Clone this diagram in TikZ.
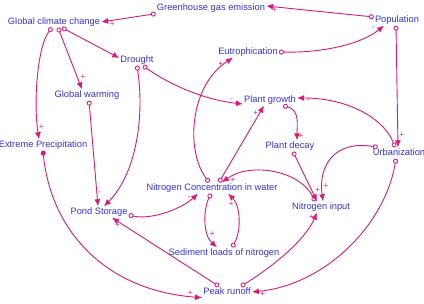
\documentclass[tikz,border=0pt]{standalone}
\usepackage{fontspec}
\setmainfont{Liberation Sans}
\usetikzlibrary{arrows.meta}
\definecolor{linkpink}{RGB}{220,25,120}
\definecolor{varblue}{RGB}{50,50,215}

\begin{document}
\begin{tikzpicture}[x=1pt,y=-1pt,
	var/.style={text=varblue,font=\fontsize{9.3}{10}\selectfont,inner sep=1pt,text height=7pt,text depth=2pt},
	link/.style={color=linkpink,line width=.9pt,{Circle[open,length=5pt]}-{Latex[length=7pt,width=6pt]}},
	pol/.style={text=linkpink,font=\fontsize{8}{8}\selectfont,inner sep=1pt}]
	\useasboundingbox(0,0)rectangle(424,304);
	\node[var](ghg)at(211,8){Greenhouse gas emission};
	\node[var](gcc)at(54,22){Global climate change};
	\node[var](pop)at(397,20){Population};
	\node[var](dro)at(137,60){Drought};
	\node[var](eut)at(248,52){Eutrophication};
	\node[var](gw)at(87,95){Global warming};
	\node[var](pg)at(270,100){Plant growth};
	\node[var](ep)at(43,145){Extreme Precipitation};
	\node[var](pd)at(290,146){Plant decay};
	\node[var](urb)at(399,153){Urbanization};
	\node[var](nc)at(212,188){Nitrogen Concentration in water};
	\node[var](ni)at(321,207){Nitrogen input};
	\node[var](ps)at(99,212){Pond Storage};
	\node[var](sed)at(224,253){Sediment loads of nitrogen};
	\node[var](pr)at(227,292){Peak runoff};
	% top row
	\draw[link](ghg.south west)--node[pol,pos=.8,below]{+}(gcc.east);
	\draw[link]([yshift=3pt]pop.west)--node[pol,pos=.92,below]{+}([yshift=2pt]ghg.east);
	\draw[link](eut.east)..controls(320,53)and(360,45)..node[pol,pos=.9,above left]{-}([xshift=-13pt]pop.south);
	\draw[link]([xshift=8pt]gcc.south)--([yshift=2pt]dro.west);
	\draw[link]([xshift=4pt]gcc.south)--node[pol,pos=.8,right=2pt]{+}([xshift=-5pt]gw.north);
	\draw[link]([xshift=-2pt]gcc.south)..controls(38,45)and(33,100)..node[pol,pos=.9,right]{+}([xshift=-4pt]ep.north);
	\draw[link,{Circle[length=5pt]}-{Latex[length=7pt,width=6pt]}](ep.south)..controls(50,225)and(100,290)..node[pol,pos=.96,above]{+}(pr.south west);
	% left side
	\draw[link]([xshift=2pt]gw.south)--node[pol,pos=.88,right]{-}([xshift=-1pt]ps.north);
	\draw[link](dro.south)..controls(145,120)and(135,175)..node[pol,pos=.93,right]{-}([xshift=5pt]ps.north);
	\draw[link]([xshift=6pt]dro.south)..controls(170,85)and(205,100)..node[pol,pos=.9,above]{-}([yshift=-4pt]pg.west);
	\draw[link]([xshift=-3pt]nc.north)..controls(185,150)and(190,85)..node[pol,pos=.93,left]{+}([xshift=-15pt]eut.south);
	\draw[link]([xshift=7pt]nc.north)--node[pol,pos=.9,left]{+}([xshift=-6pt]pg.south);
	% right side
	\draw[link]([xshift=-1pt]pop.south)--node[pol,pos=.9,right]{+}([xshift=-1pt]urb.north);
	\draw[link]([xshift=-4pt]urb.north)..controls(385,120)and(350,98)..node[pol,pos=.93,below]{-}([yshift=2pt]pg.east);
	\draw[link]([xshift=13pt]pg.south)..controls(300,110)and(297,125)..node[pol,pos=.9,right]{+}([xshift=7pt]pd.north);
	\draw[link]([xshift=3pt]pd.south)--node[pol,pos=.78,right=2pt]{+}([xshift=-4pt]ni.north);
	\draw[link]([xshift=6pt]urb.north west)..controls(335,140)and(318,165)..node[pol,pos=.85,right]{+}([xshift=2pt]ni.north);
	\draw[link]([xshift=-6pt]ni.north)..controls(300,170)and(250,162)..node[pol,pos=.88,below]{+}([xshift=10pt]nc.north);
	% bottom
	\draw[link]([yshift=-3pt]ps.east)..controls(150,220)and(180,210)..node[pol,pos=.85,above]{-}([xshift=-14pt]nc.south);
	\draw[link]([xshift=-1pt]nc.south)..controls(203,210)and(203,235)..node[pol,pos=.72,right]{+}([xshift=-7pt]sed.north);
	\draw[link]([xshift=8pt]sed.north)..controls(242,230)and(240,205)..node[pol,pos=.75,left]{+}([xshift=16pt]nc.south);
	\draw[link]([xshift=-8pt]pr.north)--node[pol,pos=.95,below]{+}([xshift=13pt]ps.south);
	\draw[link]([xshift=14pt]pr.north)..controls(275,265)and(305,240)..node[pol,pos=.95,left]{+}([xshift=-4pt]ni.south);
	\draw[link]([xshift=-3pt]urb.south)..controls(385,225)and(325,285)..node[pol,pos=.95,below]{+}(pr.east);
\end{tikzpicture}
\end{document}
